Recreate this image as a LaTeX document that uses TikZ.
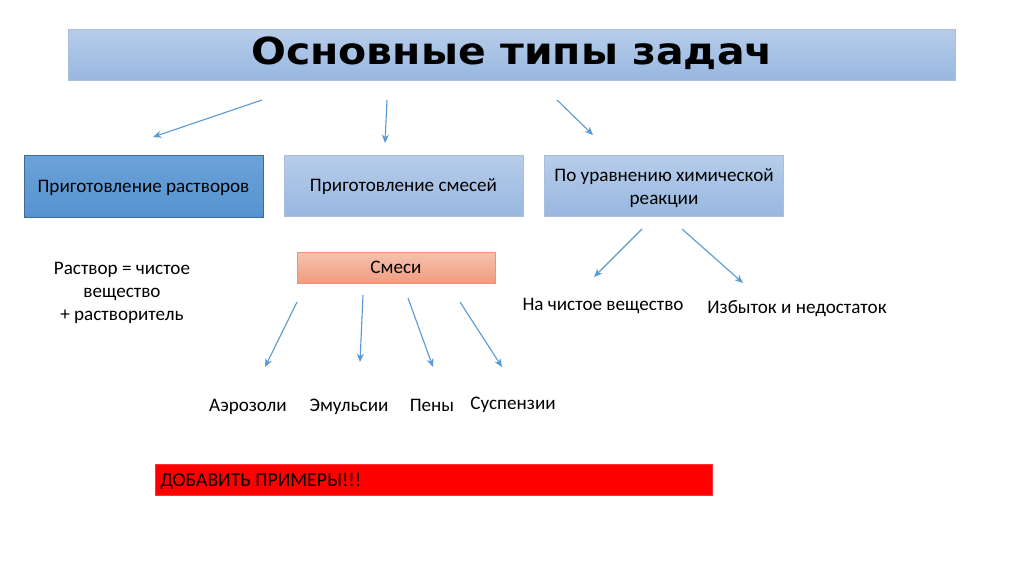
\documentclass[tikz,border=0pt]{standalone}
\usepackage{fontspec}
\setmainfont{Carlito}
\newfontfamily\titlefont{DejaVu Sans}
\usetikzlibrary{arrows.meta}
\def\PX{0.025cm}
\definecolor{arrowblue}{HTML}{5B9BD5}
\definecolor{boxtop}{HTML}{B7CDEA}
\definecolor{boxbottom}{HTML}{98B7E0}
\definecolor{lightborder}{HTML}{A9BFDC}
\definecolor{darktop}{HTML}{6CA2D8}
\definecolor{darkbottom}{HTML}{5593D0}
\definecolor{darkborder}{HTML}{3D6A96}
\definecolor{salmontop}{HTML}{F7C3AE}
\definecolor{salmonbottom}{HTML}{F09C7E}
\definecolor{salmonborder}{HTML}{EE9470}
\tikzset{
  txt/.style={font=\fontsize{13.6pt}{16.5pt}\selectfont, text=black, align=center, inner sep=0pt},
  lightbox/.style={draw=lightborder, top color=boxtop, bottom color=boxbottom, minimum height={61*\PX}, minimum width={239*\PX}},
  darkbox/.style={draw=darkborder, top color=darktop, bottom color=darkbottom, minimum height={62*\PX}, minimum width={239*\PX}},
  arr/.style={draw=arrowblue, line width=0.8pt, -{Stealth[length=6pt,width=5pt]}},
}
\begin{document}
\begin{tikzpicture}[x=\PX, y=-\PX]
\useasboundingbox[fill=white] (0,0) rectangle (1024,574);
% title
\node[draw=lightborder, top color=boxtop, bottom color=boxbottom, minimum width={887*\PX}, minimum height={51*\PX}, inner sep=0pt] (title) at (511.5,54.5) {};
\node[anchor=base, inner sep=0pt, xscale=1.1, transform shape, font=\titlefont\bfseries\fontsize{26.5pt}{30pt}\selectfont] (titletext) at (512,64) {Основные типы задач};
% level 1
\node[darkbox] (rast) at (143.5,186) {};
\node[txt, anchor=base] at (143.5,192) {Приготовление растворов};
\node[lightbox] (smes) at (403.5,185.5) {};
\node[txt, anchor=base] at (403.5,191) {Приготовление смесей};
\node[lightbox] (urav) at (664,185.5) {};
\node[txt, anchor=base] at (664,181) {По уравнению химической};
\node[txt, anchor=base] at (664,204) {реакции};
% arrows from title
\coordinate (t1) at (262,100); \coordinate (e1) at (153,137);
\coordinate (t2) at (387,100); \coordinate (e2) at (385,143);
\coordinate (t3) at (557,100); \coordinate (e3) at (593,135);
\draw[arr] (t1) -- (e1);
\draw[arr] (t2) -- (e2);
\draw[arr] (t3) -- (e3);
% solution text
\node[txt, anchor=base] (rtext1) at (122,274) {Раствор = чистое};
\node[txt, anchor=base] (rtext2) at (122,297) {вещество};
\node[txt, anchor=base] (rtext3) at (122,320) {+ растворитель};
% mixtures
\node[draw=salmonborder, top color=salmontop, bottom color=salmonbottom, minimum width={198*\PX}, minimum height={31*\PX}, inner sep=0pt] (smesi) at (396,267.5) {};
\node[txt, anchor=base] at (396,273) {Смеси};
\coordinate (s1) at (297,302); \coordinate (f1) at (265,367);
\coordinate (s2) at (363,295); \coordinate (f2) at (360,362);
\coordinate (s3) at (408,298); \coordinate (f3) at (433,367);
\coordinate (s4) at (460,302); \coordinate (f4) at (502,367);
\draw[arr] (s1) -- (f1);
\draw[arr] (s2) -- (f2);
\draw[arr] (s3) -- (f3);
\draw[arr] (s4) -- (f4);
\node[txt, anchor=base] (aer) at (248,411) {Аэрозоли};
\node[txt, anchor=base] (emu) at (349,411) {Эмульсии};
\node[txt, anchor=base] (pen) at (432,411) {Пены};
\node[txt, anchor=base] (sus) at (513,409) {Суспензии};
% reaction
\coordinate (u1) at (642,229); \coordinate (g1) at (594,277);
\coordinate (u2) at (682,229); \coordinate (g2) at (743,283);
\draw[arr] (u1) -- (g1);
\draw[arr] (u2) -- (g2);
\node[txt, anchor=base] (chist) at (603,310) {На чистое вещество};
\node[txt, anchor=base] (izb) at (797,313) {Избыток и недостаток};
% red bar
\node[draw=red!80!white, fill=red, minimum width={557*\PX}, minimum height={31*\PX}, inner sep=0pt] (red) at (433.5,479.5) {};
\node[txt, anchor=base west, font=\fontsize{14pt}{16.5pt}\selectfont] (dob) at (160,486) {ДОБАВИТЬ ПРИМЕРЫ!!!};
\end{tikzpicture}
\end{document}
